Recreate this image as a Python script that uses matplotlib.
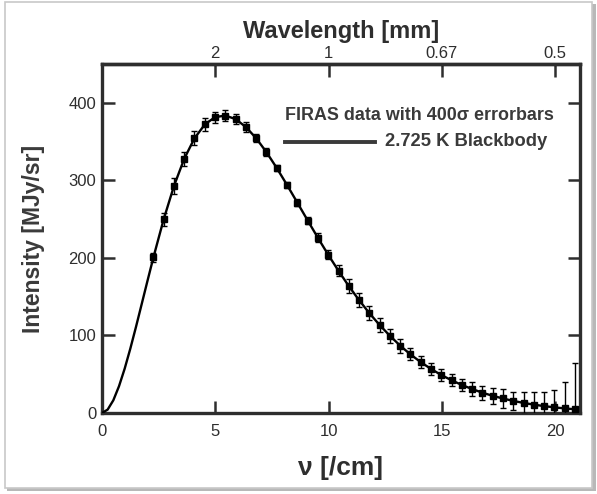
import matplotlib
matplotlib.use("Agg")
import matplotlib.pyplot as plt
from matplotlib.patches import Rectangle
from matplotlib.lines import Line2D

plt.rcParams['font.family'] = ['Liberation Sans', 'DejaVu Sans']

# FIRAS data (frequency in /cm, intensity in MJy/sr, error bar half-length in MJy/sr)
nu = [2.27, 2.72, 3.18, 3.63, 4.08, 4.54, 4.99, 5.45, 5.90, 6.35, 6.81, 7.26, 7.71,
      8.17, 8.62, 9.08, 9.53, 9.98, 10.44, 10.89, 11.34, 11.80, 12.25, 12.71, 13.16,
      13.61, 14.07, 14.52, 14.97, 15.43, 15.88, 16.34, 16.79, 17.24, 17.70, 18.15,
      18.61, 19.06, 19.51, 19.97, 20.42, 20.87]
intensity = [200.7, 249.5, 293.0, 327.8, 354.1, 372.1, 381.5, 383.5, 378.9, 368.8,
             354.1, 336.3, 316.1, 293.9, 271.4, 248.2, 225.9, 204.3, 183.3, 163.8,
             145.8, 128.8, 113.6, 99.5, 86.9, 75.7, 65.6, 56.9, 49.1, 42.2, 36.2,
             30.9, 26.2, 22.2, 18.7, 15.6, 13.0, 10.8, 8.9, 7.3, 5.9, 4.8]
errors = [6, 8, 10, 9, 9, 8, 7, 7, 6, 6, 5, 5, 4, 4, 4, 5, 6, 6, 7, 9, 9, 9, 9, 9, 9,
          8, 8, 8, 8, 8, 8, 9, 9, 10, 12, 12, 14, 16, 18, 23, 34, 60]

# 2.725 K blackbody curve, sampled (frequency /cm, MJy/sr)
bb_nu = [0.0, 0.25, 0.5, 0.75, 1.0, 1.25, 1.5, 1.75, 2.0] + nu
bb_int = [0.0, 4.4, 16.4, 34.5, 57.1, 83.0, 111.0, 140.2, 169.5] + intensity

top_ticks = [5, 10, 15, 20]
top_labels = ['2', '1', '0.67', '0.5']

W, H = 597, 494
fig = plt.figure(figsize=(W / 100, H / 100), dpi=100)

# outer frame with shadow
fig.patches.append(Rectangle((7 / W, 1 - 491 / H), 589 / W, 487 / H, transform=fig.transFigure,
                             facecolor='#b8b8b8', edgecolor='none', zorder=0))
fig.patches.append(Rectangle((5 / W, 1 - 488 / H), 587 / W, 486 / H, transform=fig.transFigure,
                             facecolor='white', edgecolor='#c8c8c8', lw=1.2, zorder=1))

ax = fig.add_axes([102 / W, 1 - 413 / H, 478 / W, 349 / H])
ax.set_zorder(2)

ink = '#2e2e2e'
ax.plot(bb_nu, bb_int, color='black', lw=1.7, zorder=3)
ax.errorbar(nu, intensity, yerr=errors, fmt='s', color='black', ms=4,
            elinewidth=1.0, capsize=2.5, capthick=1.0, zorder=4)

ax.set_xlim(0, 21.1)
ax.set_ylim(0, 450)
ax.set_xticks([0, 5, 10, 15, 20])
ax.set_yticks([0, 100, 200, 300, 400])

for s in ax.spines.values():
    s.set_linewidth(2.4)
    s.set_color(ink)

ax.tick_params(direction='in', length=9, width=1.8, colors=ink,
               labelsize=12, right=True)
ax.tick_params(axis='x', pad=8)
ax.tick_params(axis='y', pad=4)

ax.set_xlabel('ν [/cm]', fontsize=19, fontweight='bold', color=ink, labelpad=12)
ax.set_ylabel('Intensity [MJy/sr]', fontsize=16.5, fontweight='bold', color='#3a3a3a',
              labelpad=17)

sec = ax.secondary_xaxis('top')
sec.set_xticks(top_ticks)
sec.set_xticklabels(top_labels)
sec.tick_params(direction='in', length=9, width=1.8, colors=ink, labelsize=12, pad=2)
sec.spines['top'].set_linewidth(2.4)
sec.set_xlabel('Wavelength [mm]', fontsize=17, fontweight='bold', color=ink, labelpad=6)

# legend-like annotation
fig.text(285 / W, 1 - 115 / H, 'FIRAS data with 400σ errorbars', fontsize=12.9,
         fontweight='bold', color='#3a3a3a', va='center', ha='left', zorder=5)
fig.add_artist(Line2D([285 / W, 375 / W], [1 - 142 / H, 1 - 142 / H], color='#3a3a3a',
                      lw=2.8, transform=fig.transFigure, zorder=5))
fig.text(385 / W, 1 - 142 / H, '2.725 K Blackbody', fontsize=13.2, fontweight='bold',
         color='#3a3a3a', va='center', ha='left', zorder=5)

fig.savefig('out.png', dpi=100)
